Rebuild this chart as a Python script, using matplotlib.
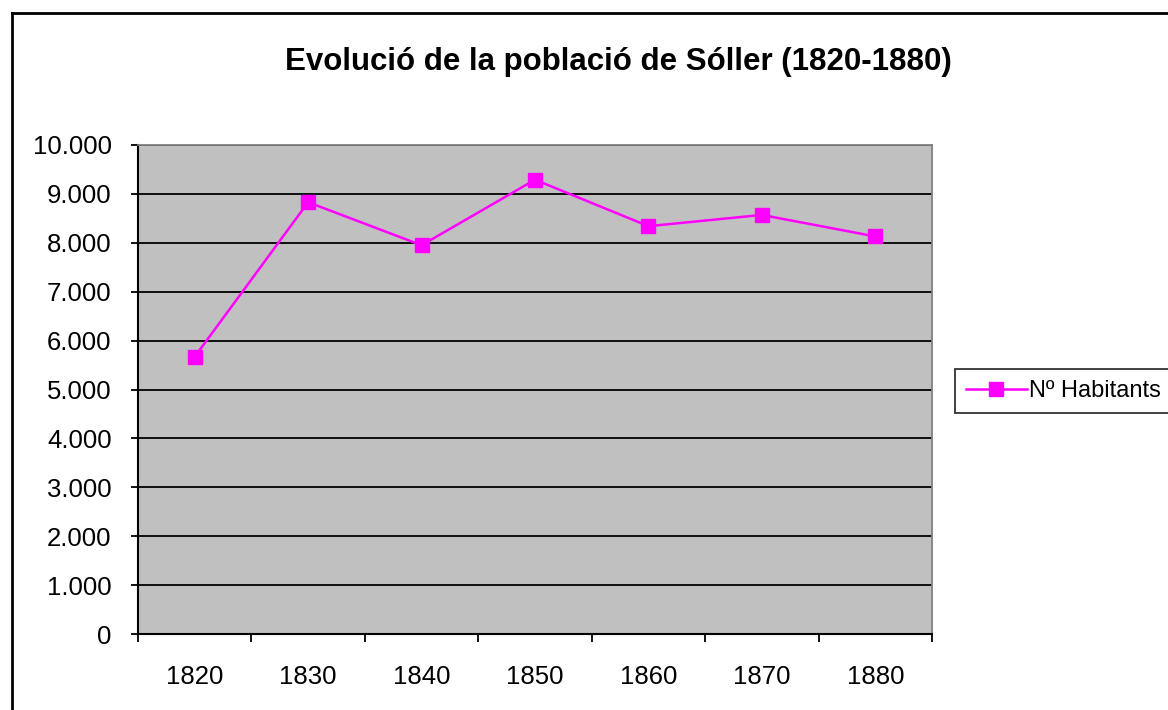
import matplotlib.pyplot as plt
from matplotlib.ticker import FuncFormatter, FixedLocator, NullFormatter

plt.rcParams['font.family'] = ['Liberation Sans', 'DejaVu Sans']

years = ["1820", "1830", "1840", "1850", "1860", "1870", "1880"]
habitants = [5670, 8830, 7950, 9290, 8340, 8570, 8130]

fig = plt.figure(figsize=(11.68, 7.10), dpi=100)
ax = fig.add_axes([138 / 1168, 1 - 634 / 710, 794 / 1168, 489 / 710])
ax.set_facecolor('#c0c0c0')

x = list(range(len(years)))
ax.plot(x, habitants, color='#ff00ff', lw=1.8, marker='s', markersize=10,
        markeredgecolor='#ff00ff', label='Nº Habitants', zorder=3)

ax.set_xlim(-0.5, len(years) - 0.5)
ax.set_ylim(0, 10000)
ax.set_yticks(range(0, 10001, 1000))
ax.yaxis.set_major_formatter(FuncFormatter(lambda v, p: f"{int(v):,}".replace(",", ".")))
ax.grid(axis='y', color='black', lw=1.3)
ax.set_axisbelow(True)

ax.xaxis.set_major_locator(FixedLocator([i - 0.5 for i in range(len(years) + 1)]))
ax.xaxis.set_major_formatter(NullFormatter())
ax.set_xticks(x, minor=True)
ax.set_xticklabels(years, minor=True)
ax.tick_params(axis='x', which='minor', length=0, pad=22, labelsize=18.5)
ax.tick_params(axis='x', which='major', length=6, width=1.3)
ax.tick_params(axis='y', length=5, width=1.3, labelsize=18.5, pad=14)

for s in ['top', 'right']:
    ax.spines[s].set_color('#808080')
    ax.spines[s].set_linewidth(1.3)
for s in ['left', 'bottom']:
    ax.spines[s].set_color('black')
    ax.spines[s].set_linewidth(1.5)

fig.text(618 / 1168, 1 - 62 / 710, "Evolució de la població de Sóller (1820-1880)",
         ha='center', va='center', fontsize=22.5, fontweight='bold')

leg = fig.legend(loc='center left', bbox_to_anchor=(955 / 1168, 1 - 391 / 710),
                 fontsize=17, frameon=True, fancybox=False, edgecolor='black',
                 handlelength=2.6, handletextpad=0.1, borderpad=0.45, borderaxespad=0)
leg.get_frame().set_linewidth(1.3)

# outer chart border
fig.add_artist(plt.Line2D([12 / 1168, 1], [1 - 13 / 710, 1 - 13 / 710],
                          transform=fig.transFigure, color='black', lw=2))
fig.add_artist(plt.Line2D([12 / 1168, 12 / 1168], [0, 1 - 13 / 710],
                          transform=fig.transFigure, color='black', lw=2))

plt.savefig("out.png", dpi=100)
